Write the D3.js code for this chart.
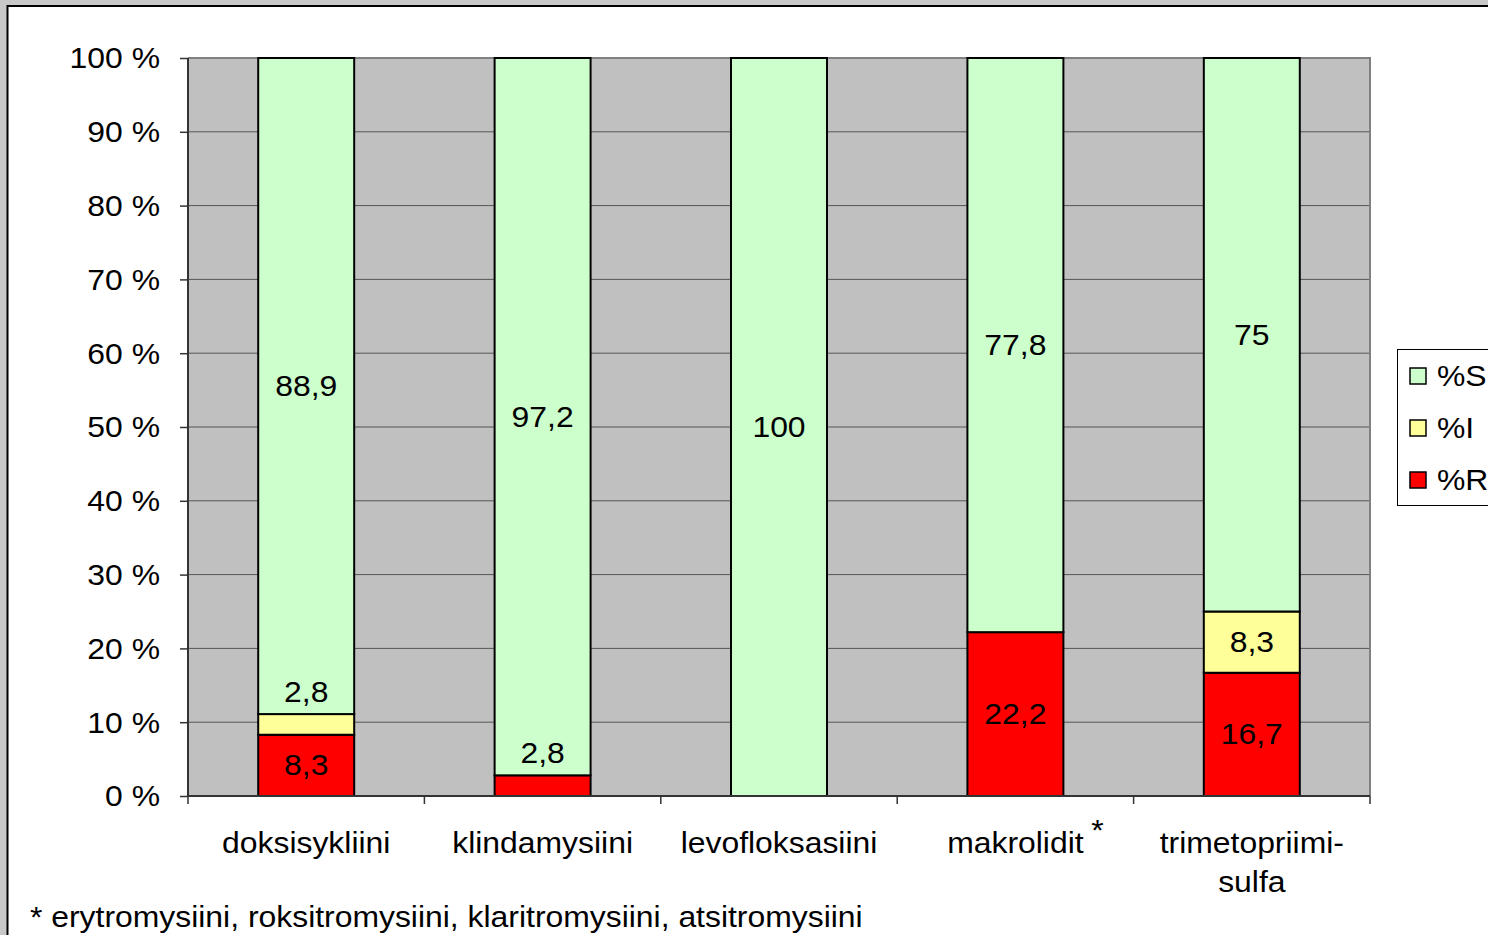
<!DOCTYPE html>
<html>
<head>
<meta charset="utf-8">
<script src="https://cdn.jsdelivr.net/npm/d3@7"></script>
<style>
  html, body { margin: 0; padding: 0; background: #c8c8c8; }
  svg { display: block; font-family: "Liberation Sans", Arial, sans-serif; }
</style>
</head>
<body>
<script>
// data
const categories = ["doksisykliini", "klindamysiini", "levofloksasiini", "makrolidit", "trimetopriimi-sulfa"];
const seriesNames = ["%R", "%I", "%S"];
const valuesR = [8.3, 2.8, 0, 22.2, 16.7];
const valuesI = [2.8, 0, 0, 0, 8.3];
const valuesS = [88.9, 97.2, 100, 77.8, 75];
const yTicks = [0, 10, 20, 30, 40, 50, 60, 70, 80, 90, 100];
const footnote = "* erytromysiini, roksitromysiini, klaritromysiini, atsitromysiini";

const colors = { "%R": "#ff0000", "%I": "#ffff99", "%S": "#ccffcc" };

const W = 1488, H = 935;
const plot = { left: 188, right: 1370, top: 58, bottom: 796 };
const fontSize = 29;
const sx = 1.1; // reference text is a bit wider than Liberation Sans

const svg = d3.select("body").append("svg").attr("width", W).attr("height", H);

// put a text at (px,py), stretched horizontally around its anchor
function txt(g, px, py, s, anchor) {
  return g.append("text")
    .attr("transform", `translate(${px},${py}) scale(${sx},1)`)
    .attr("text-anchor", anchor || "start")
    .attr("font-size", fontSize)
    .text(s);
}

// window frame
svg.append("rect").attr("x", 0).attr("y", 0).attr("width", W).attr("height", H).attr("fill", "#c8c8c8");
svg.append("rect").attr("x", 7.5).attr("y", 6).attr("width", W).attr("height", H)
  .attr("fill", "#fff").attr("stroke", "#000").attr("stroke-width", 2);

const x = d3.scaleBand().domain(categories).range([plot.left, plot.right])
  .paddingInner(0.594).paddingOuter(0.297);
const y = d3.scaleLinear().domain([0, 100]).range([plot.bottom, plot.top]);

// plot background
svg.append("rect").attr("x", plot.left).attr("y", plot.top)
  .attr("width", plot.right - plot.left).attr("height", plot.bottom - plot.top)
  .attr("fill", "#c0c0c0");

// gridlines
svg.append("g").selectAll("line").data(yTicks.filter(d => d > 0 && d < 100)).join("line")
  .attr("x1", plot.left).attr("x2", plot.right)
  .attr("y1", d => y(d)).attr("y2", d => y(d))
  .attr("stroke", "#555").attr("stroke-width", 1);

// plot frame top/right (grey)
svg.append("line").attr("x1", plot.left).attr("x2", plot.right + 1)
  .attr("y1", plot.top).attr("y2", plot.top).attr("stroke", "#808080").attr("stroke-width", 2);
svg.append("line").attr("x1", plot.right).attr("x2", plot.right)
  .attr("y1", plot.top).attr("y2", plot.bottom).attr("stroke", "#808080").attr("stroke-width", 2);

// stacked bars
const rows = categories.map((c, i) => ({ cat: c, "%R": valuesR[i], "%I": valuesI[i], "%S": valuesS[i] }));
const stacked = d3.stack().keys(seriesNames)(rows);

const gBars = svg.append("g");
stacked.forEach(layer => {
  gBars.append("g").selectAll("rect").data(layer.filter(d => d.data[layer.key] > 0)).join("rect")
    .attr("x", d => x(d.data.cat))
    .attr("width", x.bandwidth())
    .attr("y", d => y(d[1]))
    .attr("height", d => y(d[0]) - y(d[1]))
    .attr("fill", colors[layer.key])
    .attr("stroke", "#000").attr("stroke-width", 2);
});

// value labels
const gLab = svg.append("g").attr("fill", "#000");
stacked.forEach(layer => {
  layer.filter(d => d.data[layer.key] > 0).forEach(d => {
    const v = d.data[layer.key];
    const cy = v < 5 ? y(d[1]) - 22 : (y(d[0]) + y(d[1])) / 2;
    txt(gLab, x(d.data.cat) + x.bandwidth() / 2, cy + 10, String(v).replace(".", ","), "middle");
  });
});

// y axis
const yAxis = svg.append("g").attr("transform", `translate(${plot.left},0)`)
  .call(d3.axisLeft(y).tickValues(yTicks).tickSize(8).tickPadding(20).tickFormat(d => d + " %"));
yAxis.select(".domain").attr("stroke", "#333").attr("stroke-width", 2).attr("d", `M0,${plot.top}V${plot.bottom}`);
yAxis.selectAll(".tick line").attr("stroke", "#333").attr("stroke-width", 1.5);
yAxis.selectAll(".tick text")
  .attr("x", 0)
  .attr("transform", `translate(-28,0) scale(${sx},1)`)
  .attr("font-size", fontSize).attr("font-family", "Liberation Sans, Arial, sans-serif")
  .attr("fill", "#000").attr("dy", "0.34em");

// x axis line and boundary ticks
svg.append("line").attr("x1", plot.left).attr("x2", plot.right)
  .attr("y1", plot.bottom).attr("y2", plot.bottom).attr("stroke", "#333").attr("stroke-width", 2);
svg.append("g").selectAll("line").data(d3.range(categories.length + 1)).join("line")
  .attr("x1", i => plot.left + i * x.step()).attr("x2", i => plot.left + i * x.step())
  .attr("y1", plot.bottom).attr("y2", plot.bottom + 8)
  .attr("stroke", "#333").attr("stroke-width", 1.5);

// category labels
const gCat = svg.append("g");
categories.forEach(c => {
  const cx = x(c) + x.bandwidth() / 2;
  if (c === "trimetopriimi-sulfa") {
    txt(gCat, cx, 853, "trimetopriimi-", "middle");
    txt(gCat, cx, 892, "sulfa", "middle");
  } else {
    txt(gCat, cx, 853, c, "middle");
  }
  if (c === "makrolidit") {
    txt(gCat, cx + 82, 840, "*", "middle");
  }
});

// legend
const lg = svg.append("g").attr("transform", "translate(1397,349)");
lg.append("rect").attr("x", 0.5).attr("y", 0.5).attr("width", 120).attr("height", 156)
  .attr("fill", "#fff").attr("stroke", "#000").attr("stroke-width", 1);
["%S", "%I", "%R"].forEach((k, i) => {
  const gy = 27 + i * 52;
  lg.append("rect").attr("x", 13).attr("y", gy - 8).attr("width", 16).attr("height", 16)
    .attr("fill", colors[k]).attr("stroke", "#000").attr("stroke-width", 1.5);
  txt(lg, 40, gy + 10, k);
});

// footnote
txt(svg, 30, 927, footnote);
</script>
</body>
</html>
